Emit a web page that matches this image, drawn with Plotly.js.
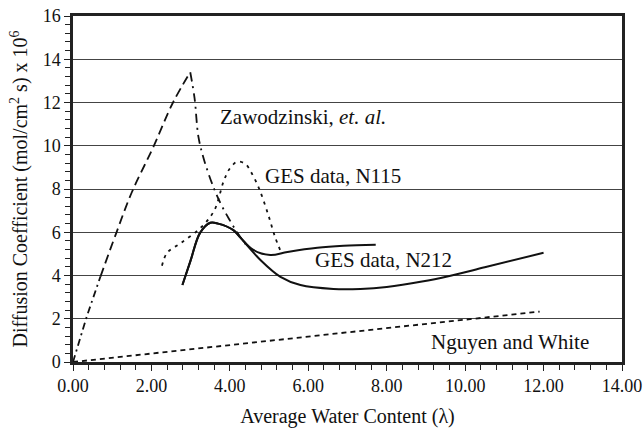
<!DOCTYPE html>
<html>
<head>
<meta charset="utf-8">
<script src="https://cdn.plot.ly/plotly-3.0.1.min.js"></script>
</head>
<body style="margin:0">
<div id="chart"></div>
<script>
// Zawodzinski et al. (rising, lower part dash-dot)
const zawLowX = [0.0, 0.35, 0.7];
const zawLowY = [0.0, 2.1, 3.95];
// rising, upper part long dash
const zawUpX = [0.7, 1.1, 1.5, 2.05, 2.55, 2.99];
const zawUpY = [3.95, 5.95, 7.85, 9.95, 12.0, 13.4];
// descending part, dash-dot
const zawDownX = [2.99, 3.1, 3.2, 3.35, 3.6, 3.8, 4.0, 4.2, 4.4];
const zawDownY = [13.4, 12.2, 10.4, 9.3, 8.0, 7.2, 6.55, 5.95, 5.45];

// GES data, N115 (dotted)
const n115X = [2.27, 2.4, 2.75, 3.25, 3.6, 3.85, 4.0, 4.2, 4.4, 4.55, 4.75, 4.98, 5.15, 5.3];
const n115Y = [4.45, 5.05, 5.5, 6.2, 7.0, 8.4, 8.95, 9.27, 9.15, 8.75, 8.0, 6.8, 5.8, 5.1];

// Solid curve (upper, ends at 7.7)
const solidAX = [2.79, 3.0, 3.24, 3.5, 3.7, 4.09, 4.27, 4.6, 5.03, 5.47, 6.23, 6.9, 7.72];
const solidAY = [3.56, 4.7, 5.97, 6.44, 6.4, 6.1, 5.75, 5.18, 4.95, 5.09, 5.28, 5.37, 5.42];

// GES data, N212 (solid, lower)
const n212X = [2.79, 3.0, 3.24, 3.5, 3.7, 4.09, 4.27, 4.78, 5.29, 5.8, 6.64, 7.33, 8.0, 8.9, 9.6, 10.5, 12.0];
const n212Y = [3.56, 4.7, 5.97, 6.44, 6.4, 6.1, 5.75, 4.72, 3.94, 3.56, 3.38, 3.38, 3.47, 3.72, 3.98, 4.38, 5.05];

// Nguyen and White (short dash)
const nwX = [0.0, 11.9];
const nwY = [0.0, 2.33];

const labelText = ["Zawodzinski, <i>et. al.</i>", "GES data, N115", "GES data, N212", "Nguyen and White"];
const labelX = [3.7, 4.85, 6.13, 9.07];
const labelY = [11.34, 8.6, 4.72, 0.93];

const FONT = "Times New Roman";
const black = "#111111";
const traces = [
  {x: zawLowX, y: zawLowY, mode: "lines", line: {color: black, width: 1.8, dash: "7px,4px,2px,4px"}},
  {x: zawUpX, y: zawUpY, mode: "lines", line: {color: black, width: 1.8, dash: "9px,5px", shape: "spline"}},
  {x: zawDownX, y: zawDownY, mode: "lines", line: {color: black, width: 1.8, dash: "9px,5px,2px,5px", shape: "spline"}},
  {x: n115X, y: n115Y, mode: "lines", line: {color: black, width: 1.8, dash: "3px,5px", shape: "spline"}},
  {x: solidAX, y: solidAY, mode: "lines", line: {color: black, width: 2, shape: "spline"}},
  {x: n212X, y: n212Y, mode: "lines", line: {color: black, width: 2, shape: "spline"}},
  {x: nwX, y: nwY, mode: "lines", line: {color: black, width: 1.8, dash: "5px,4px"}}
];

const annotations = labelText.map((t, i) => ({
  x: labelX[i], y: labelY[i], xref: "x", yref: "y", text: t, showarrow: false,
  xanchor: "left", yanchor: "middle", font: {family: FONT, size: 21, color: black}
}));

const layout = {
  width: 644, height: 432,
  margin: {l: 73, r: 22, t: 16, b: 70},
  showlegend: false,
  font: {family: FONT, color: black},
  xaxis: {
    range: [0, 14], dtick: 2, tick0: 0, tickformat: ".2f",
    showgrid: false, zeroline: false,
    showline: true, linecolor: "#222222", linewidth: 2.5, mirror: true,
    ticks: "outside", ticklen: 6, tickwidth: 1, tickcolor: "#222222",
    minor: {dtick: 0.4, ticks: "outside", ticklen: 5, tickwidth: 1, tickcolor: "#222222", showgrid: false},
    tickfont: {family: FONT, size: 18, color: black},
    title: {text: "Average Water Content (\u03bb)", font: {family: FONT, size: 20, color: black}, standoff: 14}
  },
  yaxis: {
    range: [0, 16], dtick: 2, tick0: 0,
    showgrid: true, gridcolor: "#444444", gridwidth: 1, zeroline: false,
    showline: true, linecolor: "#222222", linewidth: 2.5, mirror: true,
    ticks: "outside", ticklen: 6, tickwidth: 1, tickcolor: "#222222",
    minor: {dtick: 0.4, ticks: "outside", ticklen: 5, tickwidth: 1, tickcolor: "#222222", showgrid: false},
    tickfont: {family: FONT, size: 18, color: black},
    title: {text: "Diffusion Coefficient (mol/cm<sup>2</sup> s) x 10<sup>6</sup>", font: {family: FONT, size: 20, color: black}, standoff: 10}
  },
  annotations: annotations
};

Plotly.newPlot("chart", traces, layout, {displayModeBar: false});
</script>
</body>
</html>
